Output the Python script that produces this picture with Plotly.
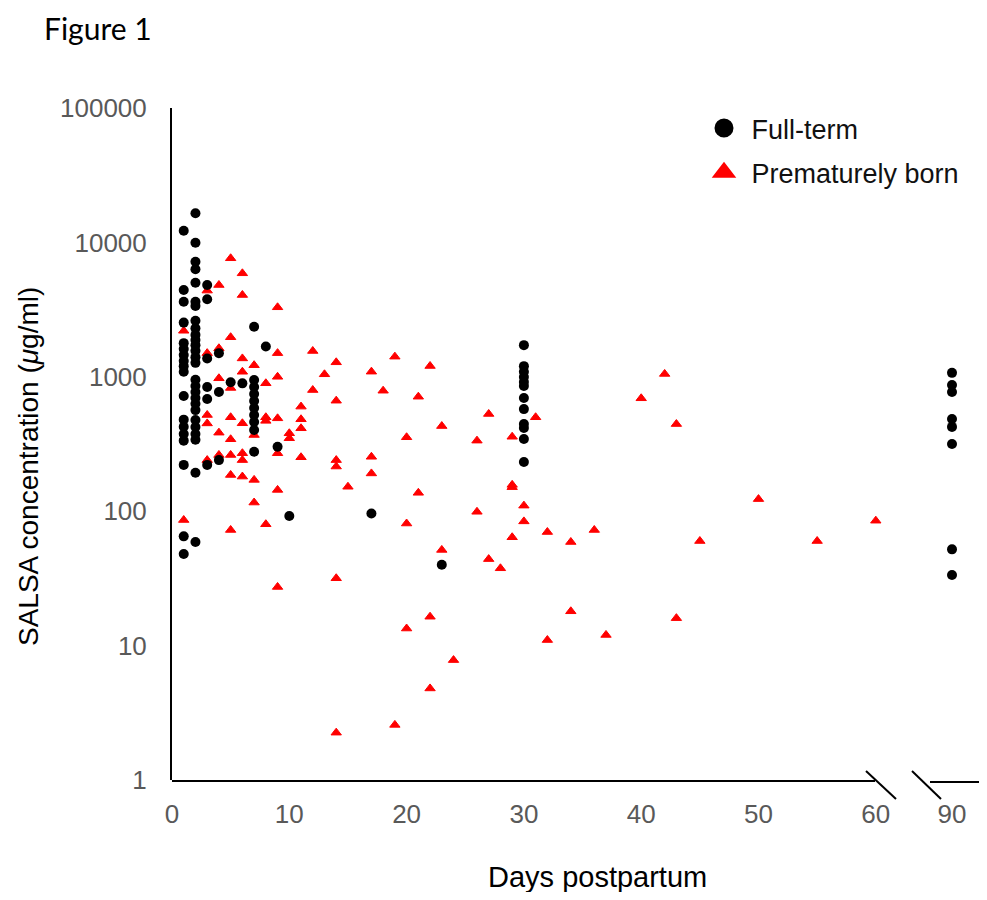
import plotly.graph_objects as go

# ---------------- data ----------------
full_term_days = [
    1, 1, 1, 1, 1, 1, 1, 1, 1, 1, 1, 1, 1, 1, 1, 1, 1, 1,
    2, 2, 2, 2, 2, 2, 2, 2, 2, 2, 2, 2, 2, 2, 2, 2, 2, 2, 2, 2, 2, 2, 2, 2, 2, 2, 2,
    3, 3, 3, 3, 3, 3,
    4, 4, 4,
    5,
    6,
    7, 7, 7, 7, 7, 7, 7, 7, 7, 7,
    8,
    9,
    10,
    17,
    23,
    30, 30, 30, 30, 30, 30, 30, 30, 30, 30, 30, 30,
    90, 90, 90, 90, 90, 90, 90, 90,
]
full_term_values = [
    12200, 4420, 3620, 2530, 1780, 1610, 1450, 1310, 1200, 1090, 720, 480, 425, 375, 335, 221, 65, 48,
    16500, 9950, 7180, 6310, 5010, 3620, 3370, 2610, 2300, 2050, 1880, 1720, 1560, 1400, 1270,
    950, 855, 770, 695, 630, 565, 477, 423, 375, 340, 193, 59,
    4820, 3780, 1370, 840, 684, 221,
    1500, 770, 240,
    910,
    894,
    2360, 947, 839, 745, 661, 586, 520, 461, 402, 277,
    1680,
    302,
    92,
    96,
    40,
    1720, 1200, 1090, 996, 914, 855, 695, 575, 445, 416, 345, 232,
    1070, 869, 771, 486, 424, 316, 52, 33.5,
]

premature_days = [
    1, 1,
    3, 3, 3, 3, 3,
    4, 4, 4, 4, 4,
    5, 5, 5, 5, 5, 5, 5, 5,
    6, 6, 6, 6, 6, 6, 6, 6,
    7, 7, 7, 7,
    8, 8, 8, 8,
    9, 9, 9, 9, 9, 9, 9,
    10, 10,
    11, 11, 11, 11,
    12, 12,
    13,
    14, 14, 14, 14, 14, 14,
    15,
    17, 17, 17,
    18,
    19, 19,
    20, 20, 20,
    21, 21,
    22, 22, 22,
    23, 23,
    24,
    26, 26,
    27, 27,
    28,
    29, 29, 29, 29,
    30, 30,
    31,
    32, 32,
    34, 34,
    36,
    37,
    40,
    42,
    43, 43,
    45,
    50,
    55,
    60,
]
premature_values = [
    2200, 86,
    4380, 1500, 520, 450, 240,
    4820, 1630, 975, 384, 262,
    7620, 1970, 826, 500, 343, 262, 186, 72.5,
    5890, 4060, 1370, 1090, 451, 270, 240, 181,
    1220, 369, 171, 116,
    895, 500, 470, 80,
    3290, 1500, 1000, 491, 270, 144, 27.3,
    380, 349,
    600, 483, 414, 252,
    1556, 797,
    1044,
    1282, 664, 240, 215, 31.7, 2.25,
    152,
    1092, 254, 191,
    788,
    1412, 2.57,
    355, 81, 13.4,
    711, 137,
    1203, 16.4, 4.8,
    430, 51.5,
    7.8,
    335, 99,
    529, 44,
    37.6,
    358, 157, 151, 64,
    110, 84,
    500,
    70, 11,
    59, 18,
    72.5,
    12,
    692,
    1050,
    445, 16,
    60,
    123,
    60,
    85,
]

x_ticks_main = [0, 10, 20, 30, 40, 50, 60]
x_ticks_late = [90]
y_ticks = [1, 10, 100, 1000, 10000, 100000]
y_tick_labels = ["1", "10", "100", "1000", "10000", "100000"]

BREAK_DAY = 90

# ---------------- geometry ----------------
# The page body has an 8px margin, so the figure is placed at (8, 8);
# it is sized so the page does not overflow, and layout positions below
# are given in window pixels.
OFF = 8
WIN_W, WIN_H = 987, 900
W, H = WIN_W - OFF, WIN_H - 2 * OFF
PLOT_L, PLOT_R, PLOT_T, PLOT_B = 172, 987, 108, 780   # plot area in window pixels
PW, PH = PLOT_R - PLOT_L, PLOT_B - PLOT_T


def px(xp):
    return (xp - PLOT_L) / PW


def py(yp):
    return (PLOT_B - yp) / PH


PX_PER_DAY = 11.73
main_right = 905
late_left = 905
main_range = [0, (main_right - PLOT_L) / PX_PER_DAY]
late_range = [BREAK_DAY - (952 - late_left) / PX_PER_DAY, BREAK_DAY + (PLOT_R - 952) / PX_PER_DAY]

ft_main_x = [d for d in full_term_days if d < BREAK_DAY]
ft_main_y = [v for d, v in zip(full_term_days, full_term_values) if d < BREAK_DAY]
ft_late_x = [d for d in full_term_days if d >= BREAK_DAY]
ft_late_y = [v for d, v in zip(full_term_days, full_term_values) if d >= BREAK_DAY]

BLACK = "#000000"
RED = "#FF0000"
TICK_GRAY = "#595959"
FONT = "Liberation Sans, Arial, sans-serif"

fig = go.Figure()

# premature first so full-term circles sit on top
fig.add_trace(go.Scatter(
    x=premature_days, y=premature_values, mode="markers",
    marker=dict(symbol="triangle-up", size=9, color=RED, line=dict(width=1, color=RED)),
    showlegend=False, xaxis="x", yaxis="y", cliponaxis=False,
))
fig.add_trace(go.Scatter(
    x=ft_main_x, y=ft_main_y, mode="markers",
    marker=dict(symbol="circle", size=10, color=BLACK),
    showlegend=False, xaxis="x", yaxis="y", cliponaxis=False,
))
fig.add_trace(go.Scatter(
    x=ft_late_x, y=ft_late_y, mode="markers",
    marker=dict(symbol="circle", size=10, color=BLACK),
    showlegend=False, xaxis="x2", yaxis="y", cliponaxis=False,
))
# legend entries
fig.add_trace(go.Scatter(
    x=[None], y=[None], mode="markers", name="\u00a0Full-term",
    marker=dict(symbol="circle", size=16, color=BLACK, line=dict(width=3, color=BLACK)),
    legendrank=1, legendgroup="a",
))
fig.add_trace(go.Scatter(
    x=[None], y=[None], mode="markers", name="\u00a0Prematurely born",
    marker=dict(symbol="triangle-up", size=16, color=RED, line=dict(width=3, color=RED)),
    legendrank=2, legendgroup="b",
))

axis_common = dict(showgrid=False, zeroline=False, showline=False, ticks="",
                   tickfont=dict(family=FONT, size=26, color=TICK_GRAY),
                   ticklabelstandoff=16)

fig.update_layout(
    width=W, height=H,
    margin=dict(l=PLOT_L - OFF, r=WIN_W - PLOT_R, t=PLOT_T - OFF,
                b=(H + OFF) - PLOT_B, pad=0),
    paper_bgcolor="white", plot_bgcolor="white",
    font=dict(family=FONT, color=BLACK),
    xaxis=dict(domain=[0, px(main_right)], range=main_range,
               tickvals=x_ticks_main, anchor="y", **axis_common),
    xaxis2=dict(domain=[px(late_left), 1], range=late_range,
                tickvals=x_ticks_late, anchor="y", **axis_common),
    yaxis=dict(type="log", range=[0, 5], tickvals=y_ticks, ticktext=y_tick_labels,
               showgrid=False, zeroline=False, showline=True, linewidth=2, linecolor=BLACK,
               ticks="", tickfont=dict(family=FONT, size=26, color=TICK_GRAY),
               ticklabelstandoff=18, anchor="x"),
    legend=dict(x=px(704), y=py(104), xanchor="left", yanchor="top",
                font=dict(family=FONT, size=27, color="#111111"),
                bgcolor="rgba(0,0,0,0)", tracegroupgap=6, traceorder="grouped",
                itemclick=False),
    showlegend=True,
)

# broken x axis: line segments and break marks
line_style = dict(color=BLACK, width=2)
fig.add_shape(type="line", xref="paper", yref="paper", x0=px(PLOT_L), x1=px(875), y0=py(781), y1=py(781), line=line_style)
fig.add_shape(type="line", xref="paper", yref="paper", x0=px(930), x1=px(PLOT_R + 12), y0=py(782), y1=py(782), line=line_style)
fig.add_shape(type="line", xref="paper", yref="paper", x0=px(866), x1=px(896), y0=py(771), y1=py(799), line=line_style)
fig.add_shape(type="line", xref="paper", yref="paper", x0=px(912), x1=px(941), y0=py(771), y1=py(799), line=line_style)

# titles
fig.add_annotation(text="Days postpartum", xref="paper", yref="paper", x=px(597), y=py(877),
                   xanchor="center", yanchor="middle", showarrow=False,
                   font=dict(family=FONT, size=29, color=BLACK))
fig.add_annotation(text="SALSA concentration (<i>\u03bc</i>g/ml)", xref="paper", yref="paper",
                   x=px(28), y=py(467), xanchor="center", yanchor="middle", textangle=-90,
                   showarrow=False, font=dict(family=FONT, size=28, color=BLACK))
fig.add_annotation(text="Figure 1", xref="paper", yref="paper", x=px(42), y=py(OFF),
                   xanchor="left", yanchor="top", showarrow=False,
                   font=dict(family="Lato, Open Sans, sans-serif", size=30, color=BLACK))

fig.write_html("out.html")
